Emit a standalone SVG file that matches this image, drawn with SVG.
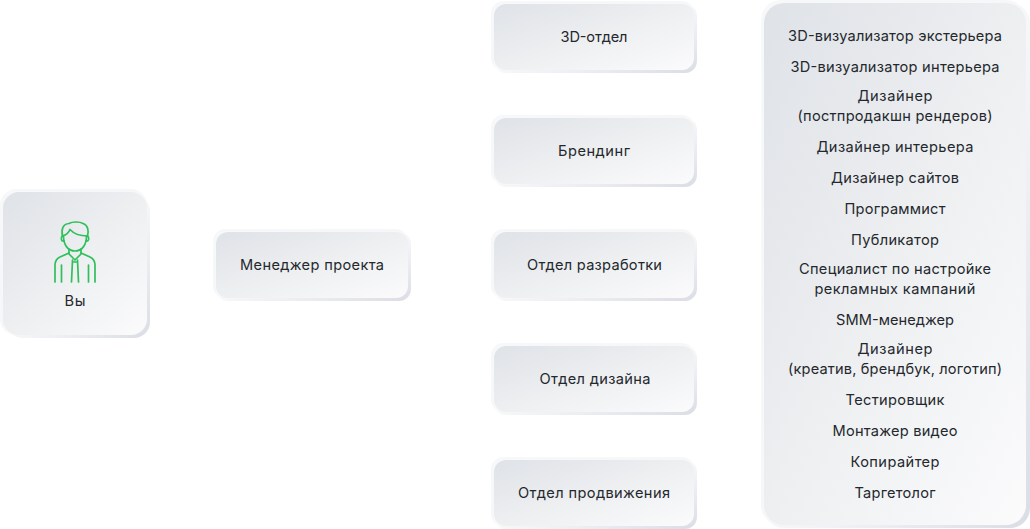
<svg xmlns="http://www.w3.org/2000/svg" width="1030" height="529" viewBox="0 0 1030 529">
<style>
text{font-family:"Inter","Liberation Sans",sans-serif;font-size:14.6px;fill:#24282d;text-anchor:middle;font-weight:400}
.sh{fill:url(#s)}
.hl{fill:url(#h)}
.c{fill:url(#g)}
.ic{fill:none;stroke:#2fc05c;stroke-width:1.7;stroke-linecap:round;stroke-linejoin:round}
</style>
<defs>
<linearGradient id="g" x1="0" y1="0" x2="1" y2="1"><stop offset="0" stop-color="#dfe2e7"/><stop offset="0.5" stop-color="#edeff1"/><stop offset="1" stop-color="#fbfbfc"/></linearGradient>
<linearGradient id="s" x1="0" y1="0" x2="1" y2="1"><stop offset="0" stop-color="#ffffff"/><stop offset="0.42" stop-color="#fbfbfc"/><stop offset="0.7" stop-color="#eceef2"/><stop offset="1" stop-color="#dadde4"/></linearGradient>
<linearGradient id="h" x1="0" y1="0" x2="1" y2="1"><stop offset="0" stop-color="#f7f8f9"/><stop offset="0.5" stop-color="#f6f7f9"/><stop offset="1" stop-color="#fefefe"/></linearGradient>
</defs>
<g id="connectors"></g>
<g id="node-you">
<rect class="hl" x="0" y="189" width="147" height="146" rx="16"/><rect class="sh" x="6" y="195" width="144" height="143" rx="16"/><rect class="c" x="3" y="192" width="144" height="143" rx="16"/>
<g class="ic">
<path d="M62.5 236C61 229 63 224 69 223.500C72 221.500 80 221.500 83 223.500C88 225 89 231 87.500 236"/>
<path d="M62.500 236C66 235 69 232 70 229.500C74 234 81 236 87.500 236"/>
<path d="M63.500 236C63.500 245 68 251 75 251C82 251 86.500 245 86.500 236"/>
<path d="M62.500 236C60 238 61.500 241.500 64 241M87.500 236C90 238 88.500 241.500 86 241"/>
<path d="M69 249V254L75 260L81 254V249"/>
<path d="M69 253L60 257C56 259 55 261 55 265V282M81 253L90 257C94 259 95 261 95 265V282"/>
<path d="M61.500 265V282M88.500 265V282"/>
<path d="M72.500 260L71.500 282M77.500 260L78.500 282M72.500 262H77.500"/>
</g>
<text x="75" y="306" textLength="21">Вы</text>
</g>
<g id="node-manager">
<rect class="hl" x="213" y="229" width="195" height="69" rx="12"/><rect class="sh" x="216" y="232" width="195" height="69" rx="12"/><rect class="c" x="216" y="232" width="192" height="66" rx="12"/>
<text x="312" y="270" textLength="144">Менеджер проекта</text>
</g>
<g id="node-3d">
<rect class="hl" x="491" y="1" width="203" height="69" rx="12"/><rect class="sh" x="494" y="4" width="203" height="69" rx="12"/><rect class="c" x="494" y="4" width="200" height="66" rx="12"/>
<text x="594" y="42" textLength="67">3D-отдел</text>
</g>
<g id="node-brand">
<rect class="hl" x="491" y="115" width="203" height="69" rx="12"/><rect class="sh" x="494" y="118" width="203" height="69" rx="12"/><rect class="c" x="494" y="118" width="200" height="66" rx="12"/>
<text x="594" y="156" textLength="72">Брендинг</text>
</g>
<g id="node-dev">
<rect class="hl" x="491" y="229" width="203" height="69" rx="12"/><rect class="sh" x="494" y="232" width="203" height="69" rx="12"/><rect class="c" x="494" y="232" width="200" height="66" rx="12"/>
<text x="594.500" y="270" textLength="135">Отдел разработки</text>
</g>
<g id="node-design">
<rect class="hl" x="491" y="343" width="203" height="69" rx="12"/><rect class="sh" x="494" y="346" width="203" height="69" rx="12"/><rect class="c" x="494" y="346" width="200" height="66" rx="12"/>
<text x="595" y="384" textLength="111">Отдел дизайна</text>
</g>
<g id="node-promo">
<rect class="hl" x="491" y="457" width="203" height="69" rx="12"/><rect class="sh" x="494" y="460" width="203" height="69" rx="12"/><rect class="c" x="494" y="460" width="200" height="66" rx="12"/>
<text x="594" y="498" textLength="152">Отдел продвижения</text>
</g>
<g id="node-roles">
<rect class="hl" x="761" y="0" width="265" height="525" rx="20"/><rect class="sh" x="764" y="3" width="266" height="525" rx="20"/><rect class="c" x="764" y="3" width="262" height="522" rx="20"/>
<text x="895" y="41" textLength="214">3D-визуализатор экстерьера</text>
<text x="895" y="72" textLength="209">3D-визуализатор интерьера</text>
<text x="895" y="101" textLength="75">Дизайнер</text>
<text x="895" y="121" textLength="195">(постпродакшн рендеров)</text>
<text x="895" y="152" textLength="157">Дизайнер интерьера</text>
<text x="895" y="183" textLength="128">Дизайнер сайтов</text>
<text x="895" y="214" textLength="101">Программист</text>
<text x="895" y="245" textLength="88">Публикатор</text>
<text x="895" y="274" textLength="192">Специалист по настройке</text>
<text x="895" y="294" textLength="161">рекламных кампаний</text>
<text x="895" y="325" textLength="118">SMM-менеджер</text>
<text x="895" y="354" textLength="75">Дизайнер</text>
<text x="895" y="374" textLength="214">(креатив, брендбук, логотип)</text>
<text x="895" y="405" textLength="99">Тестировщик</text>
<text x="895" y="436" textLength="125">Монтажер видео</text>
<text x="895" y="467" textLength="89">Копирайтер</text>
<text x="895" y="498" textLength="81">Таргетолог</text>
</g>
</svg>
